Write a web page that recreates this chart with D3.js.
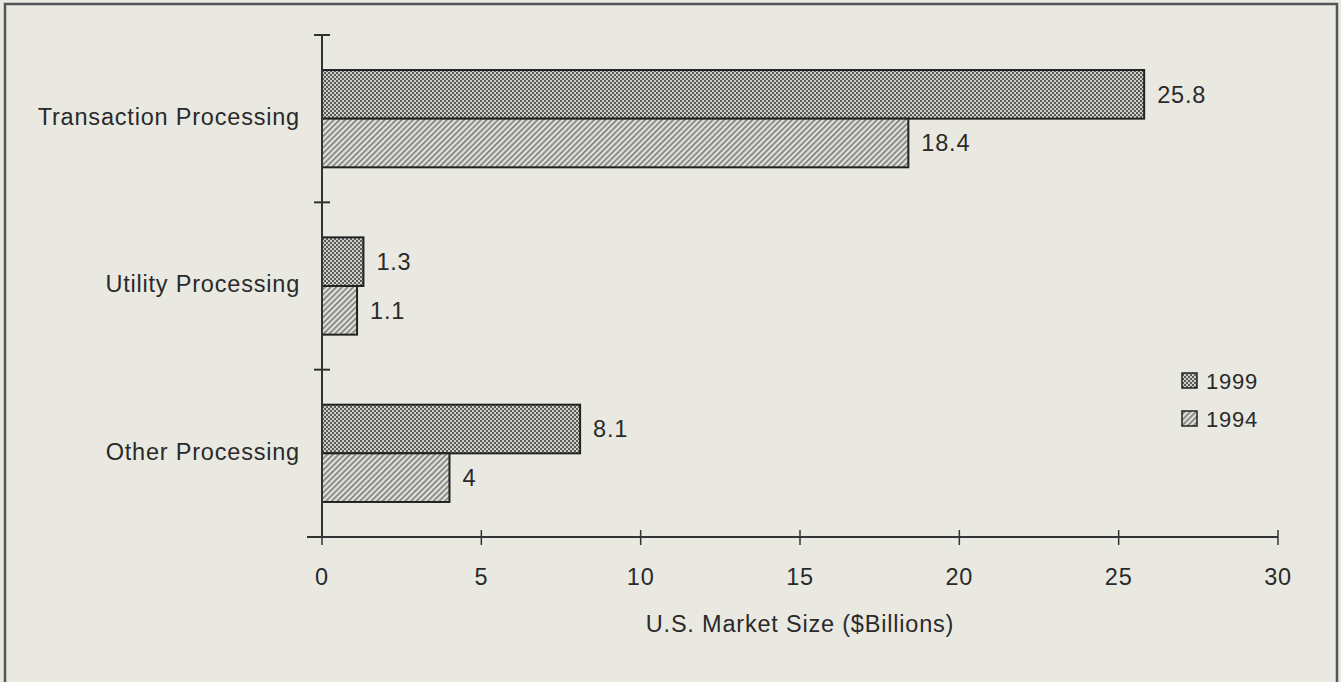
<!DOCTYPE html>
<html><head><meta charset="utf-8">
<script src="https://cdn.jsdelivr.net/npm/d3@7"></script>
<style>body{margin:0;background:#e9e9e2;}svg{display:block;font-family:Arial,"Liberation Sans",sans-serif;}</style>
</head><body>
<script>
const categories = ["Transaction Processing", "Utility Processing", "Other Processing"];
const seriesNames = ["1999", "1994"];
const values1999 = [25.8, 1.3, 8.1];
const values1994 = [18.4, 1.1, 4];
const xTicks = [0, 5, 10, 15, 20, 25, 30];
const valueLabels1999 = ["25.8", "1.3", "8.1"];
const valueLabels1994 = ["18.4", "1.1", "4"];

const W = 1341, H = 682;
const FS = 23.5, LS = 0.8;
const svg = d3.select("body").append("svg").attr("width", W).attr("height", H);
const defs = svg.append("defs");
const p1 = defs.append("pattern").attr("id","p1999").attr("patternUnits","userSpaceOnUse").attr("width",4).attr("height",4);
p1.append("rect").attr("width",4).attr("height",4).attr("fill","#cfcfca");
p1.append("rect").attr("width",2).attr("height",2).attr("fill","#5a5a58");
p1.append("rect").attr("x",2).attr("y",2).attr("width",2).attr("height",2).attr("fill","#5a5a58");
const p2 = defs.append("pattern").attr("id","p1994").attr("patternUnits","userSpaceOnUse").attr("width",4).attr("height",4).attr("patternTransform","rotate(45)");
p2.append("rect").attr("width",4).attr("height",4).attr("fill","#e2e2dc");
p2.append("rect").attr("width",1.6).attr("height",4).attr("fill","#7a7a76");

svg.append("rect").attr("x",0).attr("y",0).attr("width",W).attr("height",H).attr("fill","#e9e9e2");
svg.append("path").attr("d","M5,"+H+" V4 H1337 V"+H).attr("fill","none").attr("stroke","#555").attr("stroke-width",2.5);

const x = d3.scaleLinear().domain([0,30]).range([322,1278]);
const y = d3.scaleBand().domain(categories).range([35,537]);
const inner = d3.scaleBand().domain(seriesNames).range([0, y.bandwidth()]).paddingOuter(0.72).paddingInner(0);

const data = categories.map((c,i)=>({cat:c, vals:[values1999[i], values1994[i]], labels:[valueLabels1999[i], valueLabels1994[i]]}));
const fills = ["url(#p1999)", "url(#p1994)"];

const g = svg.append("g");
data.forEach(d=>{
  seriesNames.forEach((s,j)=>{
    const yy = y(d.cat)+inner(s);
    g.append("rect").attr("x",x(0)).attr("y",yy).attr("width",x(d.vals[j])-x(0)).attr("height",inner.bandwidth())
      .attr("fill",fills[j]).attr("stroke","#222").attr("stroke-width",2);
    g.append("text").attr("x",x(d.vals[j])+13).attr("y",yy+inner.bandwidth()/2).attr("dy","0.35em")
      .attr("font-size",FS).attr("letter-spacing",LS).attr("fill","#2a2a2a").text(d.labels[j]);
  });
});

// y axis
const ya = svg.append("g");
ya.append("line").attr("x1",x(0)).attr("x2",x(0)).attr("y1",35).attr("y2",537).attr("stroke","#333").attr("stroke-width",2);
[35, ...categories.slice(1).map(c=>y(c)), 537].forEach(t=>{
  ya.append("line").attr("x1",x(0)-8).attr("x2",x(0)+8).attr("y1",t).attr("y2",t).attr("stroke","#333").attr("stroke-width",2);
});
categories.forEach(c=>{
  ya.append("text").attr("x",300).attr("y",y(c)+y.bandwidth()/2-2).attr("dy","0.35em").attr("text-anchor","end")
    .attr("font-size",FS).attr("letter-spacing",LS).attr("fill","#2a2a2a").text(c);
});

// x axis
const xa = svg.append("g").attr("transform","translate(0,537)");
xa.append("line").attr("x1",307).attr("x2",x(30)).attr("y1",0).attr("y2",0).attr("stroke","#333").attr("stroke-width",2);
xTicks.forEach(t=>{
  xa.append("line").attr("x1",x(t)).attr("x2",x(t)).attr("y1",-7).attr("y2",8).attr("stroke","#333").attr("stroke-width",1.5);
  xa.append("text").attr("x",x(t)).attr("y",40).attr("dy","0.35em").attr("text-anchor","middle").attr("font-size",FS).attr("letter-spacing",LS).attr("fill","#2a2a2a").text(t);
});
svg.append("text").attr("x",(x(0)+x(30))/2).attr("y",624).attr("dy","0.35em").attr("text-anchor","middle")
  .attr("font-size",FS).attr("letter-spacing",LS).attr("fill","#2a2a2a").text("U.S. Market Size ($Billions)");

// legend
const lg = svg.append("g");
seriesNames.forEach((s,j)=>{
  const yy = 381 + j*38;
  lg.append("rect").attr("x",1182).attr("y",yy-8).attr("width",15).attr("height",15).attr("fill",fills[j]).attr("stroke","#222").attr("stroke-width",1.5);
  lg.append("text").attr("x",1206).attr("y",yy).attr("dy","0.35em").attr("font-size",22).attr("letter-spacing",LS).attr("fill","#2a2a2a").text(s);
});
</script>
</body></html>
